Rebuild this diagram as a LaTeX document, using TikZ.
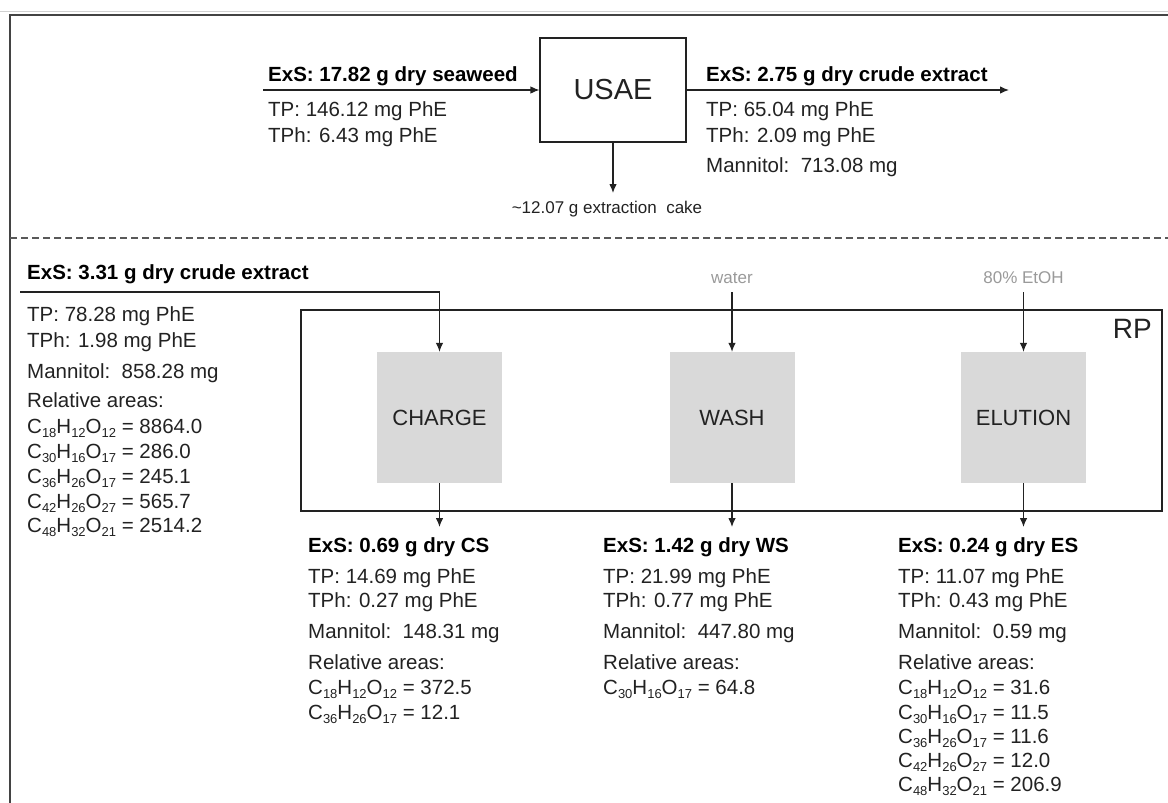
\documentclass[tikz,border=0pt]{standalone}
\usepackage{fontspec}
\setmainfont{Liberation Sans}
\usetikzlibrary{arrows.meta}
\definecolor{ink}{HTML}{222222}
\definecolor{boxgray}{HTML}{D9D9D9}
\definecolor{soft}{HTML}{9A9A9A}
\newcommand\sbx[1]{\raisebox{-4pt}{\fontsize{13}{13}\selectfont #1}}
\newcommand\frm[3]{C\sbx{#1}H\sbx{#2}O\sbx{#3}}
\begin{document}
\begin{tikzpicture}[x=1pt,y=-1pt,
  reg/.style={anchor=base west, inner sep=0pt, text=ink, font=\fontsize{20.5}{24}\selectfont},
  bld/.style={anchor=base west, inner sep=0pt, text=black, font=\fontsize{20.5}{24}\selectfont\bfseries},
  arr/.style={draw=ink, line width=1.1pt, -{Latex[length=9pt,width=7.5pt]}},
  gbox/.style={fill=boxgray, minimum width=125pt, minimum height=131pt, inner sep=0pt, text=ink, font=\fontsize{22}{24}\selectfont},
  feed/.style={anchor=base, inner sep=0pt, text=soft, font=\fontsize{17}{20}\selectfont},
  frame/.style={draw=ink, line width=1.1pt}
]
\useasboundingbox (0,0) rectangle (1168,803);
\fill[white] (0,0) rectangle (1168,803);
% page frame
\draw[color=black!18, line width=0.8pt] (0,11) -- (1168,11);
\draw[color=ink!85, line width=1.6pt] (10,803) -- (10,15) -- (1168,15);
\draw[color=ink!75, line width=1.1pt, dash pattern=on 7pt off 4pt] (10,238) -- (1168,238);

% ---------- top: USAE ----------
\node[frame, minimum width=146pt, minimum height=104pt, inner sep=0pt, text=ink, font=\fontsize{29}{32}\selectfont] (usae) at (613,90) {USAE};
\coordinate (seaIn) at (263,90);
\coordinate (extOut) at (1009,90);
\draw[arr] (seaIn) -- (usae.west);
\draw[arr] (usae.east) -- (extOut);

\node[bld] (tl0) at (268,81) {ExS: 17.82 g dry seaweed};
\node[reg] (tl1) at (268,116) {TP: 146.12 mg PhE};
\node[reg] (tl2) at (268,142) {TPh: 6.43 mg PhE};

\node[bld] (tr0) at (706,81) {ExS: 2.75 g dry crude extract};
\node[reg] (tr1) at (706,116) {TP: 65.04 mg PhE};
\node[reg] (tr2) at (706,142) {TPh: 2.09 mg PhE};
\node[reg] (tr3) at (706,172) {Mannitol:\ \ 713.08 mg};

\node[feed, text=ink] (cake) at (607,213) {\textasciitilde 12.07 g extraction\ \ cake};
\coordinate (cakeIn) at (613,193);
\draw[arr] (usae.south) -- (cakeIn);

% ---------- bottom: RP ----------
\node[frame, minimum width=861pt, minimum height=201pt, inner sep=0pt] (rp) at (731.5,410.5) {};
\node[anchor=base east, inner sep=0pt, text=ink, font=\fontsize{28}{30}\selectfont] (rpl) at (1152,338) {RP};

\node[gbox] (charge) at (439.5,417.5) {CHARGE};
\node[gbox] (wash) at (732,417.5) {WASH};
\node[gbox] (elution) at (1023.5,417.5) {ELUTION};

\node[feed] (water) at (732,283) {water};
\node[feed] (etoh) at (1023.5,283) {80\% EtOH};
\draw[arr] ([yshift=-9pt]water.south) -- (wash.north);
\draw[arr] ([yshift=-9pt]etoh.south) -- (elution.north);

% left input block
\node[bld] (l0) at (27,279) {ExS: 3.31 g dry crude extract};
\coordinate (crudeL) at (20,292);
\draw[arr] (crudeL) -- (crudeL -| charge.north) -- (charge.north);
\node[reg] (l1) at (27,321) {TP: 78.28 mg PhE};
\node[reg] (l2) at (27,347) {TPh: 1.98 mg PhE};
\node[reg] (l3) at (27,378) {Mannitol:\ \ 858.28 mg};
\node[reg] (l4) at (27,407) {Relative areas:};
\node[reg] (l5) at (27,433) {\frm{18}{12}{12} = 8864.0};
\node[reg] (l6) at (27,458) {\frm{30}{16}{17} = 286.0};
\node[reg] (l7) at (27,483) {\frm{36}{26}{17} = 245.1};
\node[reg] (l8) at (27,508) {\frm{42}{26}{27} = 565.7};
\node[reg] (l9) at (27,532) {\frm{48}{32}{21} = 2514.2};

% outputs
\coordinate (csIn) at (439.5,527);
\coordinate (wsIn) at (732,527);
\coordinate (esIn) at (1023.5,527);
\draw[arr] (charge.south) -- (csIn);
\draw[arr] (wash.south) -- (wsIn);
\draw[arr] (elution.south) -- (esIn);

\node[bld] (c0) at (308,552) {ExS: 0.69 g dry CS};
\node[reg] (c1) at (308,583) {TP: 14.69 mg PhE};
\node[reg] (c2) at (308,607) {TPh: 0.27 mg PhE};
\node[reg] (c3) at (308,638) {Mannitol:\ \ 148.31 mg};
\node[reg] (c4) at (308,669) {Relative areas:};
\node[reg] (c5) at (308,694) {\frm{18}{12}{12} = 372.5};
\node[reg] (c6) at (308,719) {\frm{36}{26}{17} = 12.1};

\node[bld] (w0) at (603,552) {ExS: 1.42 g dry WS};
\node[reg] (w1) at (603,583) {TP: 21.99 mg PhE};
\node[reg] (w2) at (603,607) {TPh: 0.77 mg PhE};
\node[reg] (w3) at (603,638) {Mannitol:\ \ 447.80 mg};
\node[reg] (w4) at (603,669) {Relative areas:};
\node[reg] (w5) at (603,694) {\frm{30}{16}{17} = 64.8};

\node[bld] (e0) at (898,552) {ExS: 0.24 g dry ES};
\node[reg] (e1) at (898,583) {TP: 11.07 mg PhE};
\node[reg] (e2) at (898,607) {TPh: 0.43 mg PhE};
\node[reg] (e3) at (898,638) {Mannitol:\ \ 0.59 mg};
\node[reg] (e4) at (898,669) {Relative areas:};
\node[reg] (e5) at (898,694) {\frm{18}{12}{12} = 31.6};
\node[reg] (e6) at (898,719) {\frm{30}{16}{17} = 11.5};
\node[reg] (e7) at (898,743) {\frm{36}{26}{17} = 11.6};
\node[reg] (e8) at (898,767) {\frm{42}{26}{27} = 12.0};
\node[reg] (e9) at (898,791) {\frm{48}{32}{21} = 206.9};
\end{tikzpicture}
\end{document}
